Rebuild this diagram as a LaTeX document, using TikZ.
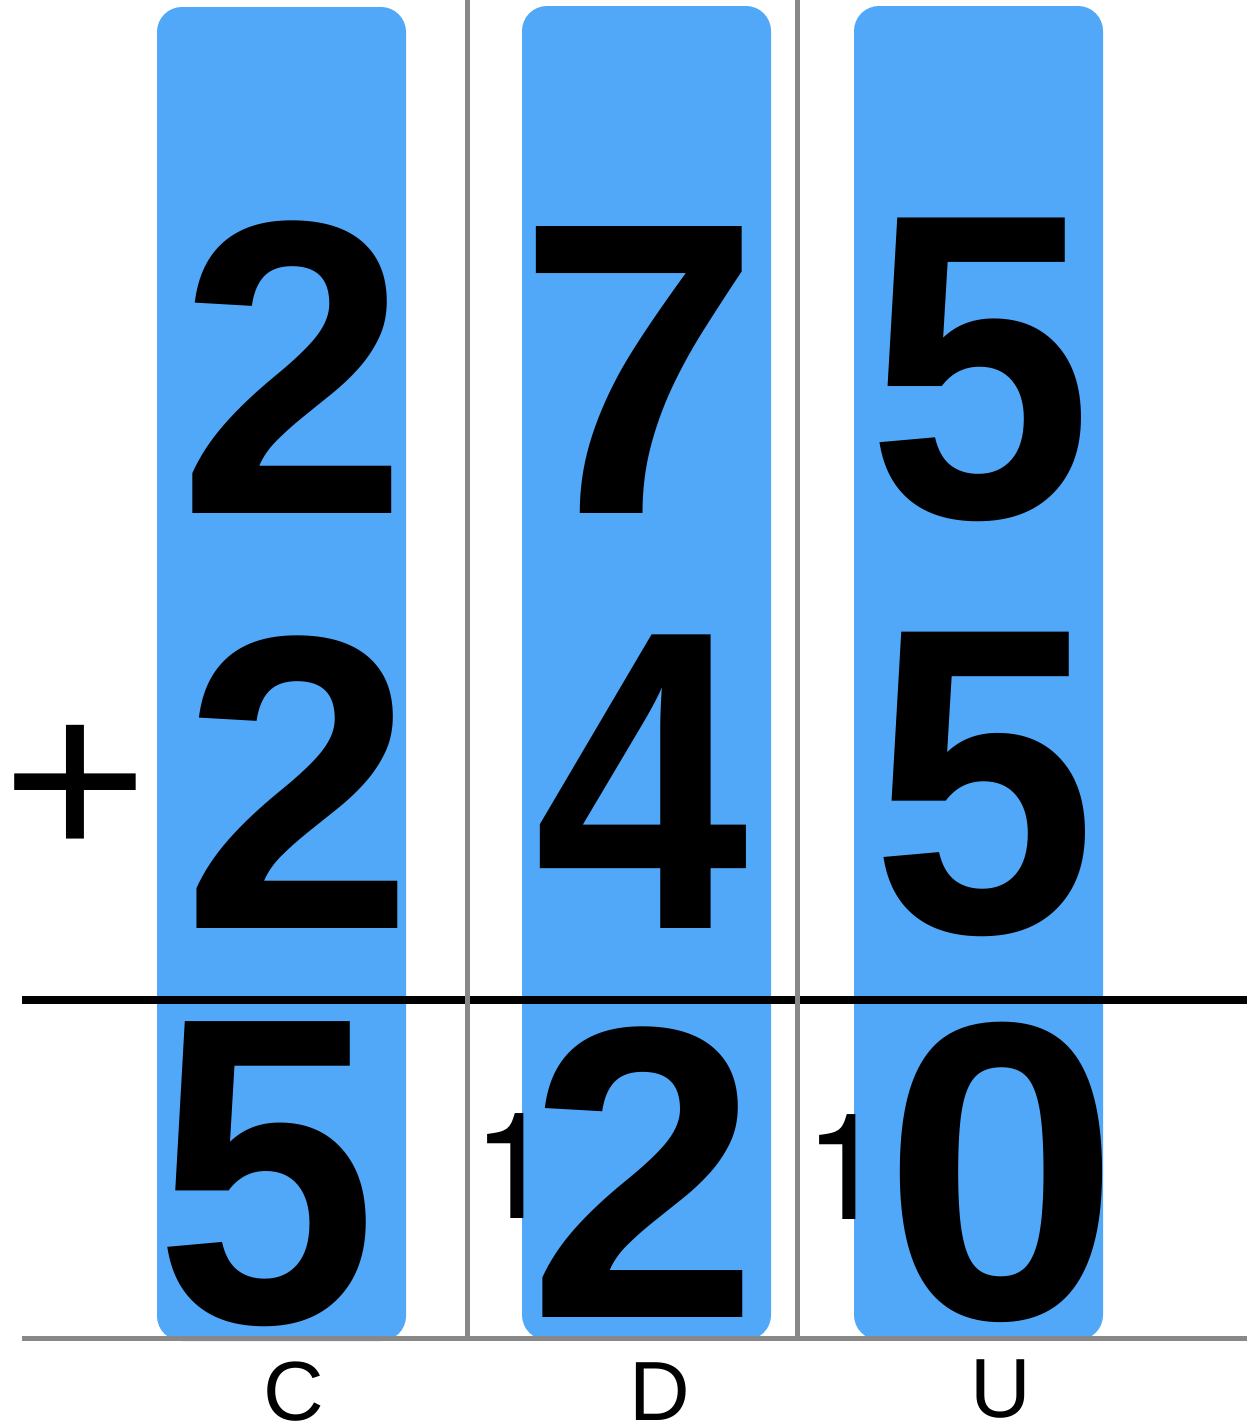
\documentclass[tikz,border=0pt]{standalone}
\usepackage{fontspec}
\setmainfont{Liberation Sans}
\newfontfamily\carryfont{TeX Gyre Heros}
\definecolor{barblue}{HTML}{52A8F8}
\definecolor{rulegray}{HTML}{888888}
\newcommand{\dg}[3]{\scalebox{#1}[#2]{#3}}

\begin{document}
\begin{tikzpicture}[x=1pt,y=-1pt,
  bar/.style={fill=barblue,rounded corners=25pt},
  digit/.style={anchor=base,inner sep=0pt,font=\fontsize{405}{405}\selectfont\bfseries},
  carry/.style={anchor=base,inner sep=0pt,font=\fontsize{148}{148}\selectfont\carryfont},
  colname/.style={anchor=base,inner sep=0pt,font=\fontsize{84}{84}\selectfont},
  gridline/.style={rulegray,line width=5pt}]
\useasboundingbox (0,0) rectangle (1247,1427);
% column bars
\fill[bar] (157,7) rectangle (406,1341);
\fill[bar] (522,6) rectangle (771,1340);
\fill[bar] (854,6) rectangle (1103,1340);
% first addend
\node[digit] (c1) at (293,513) {\dg{1.02}{1.035}{2}};
\node[digit] (d1) at (639,513) {\dg{1.083}{1.03}{7}};
\node[digit] (u1) at (980,517) {\dg{1}{1.075}{5}};
% second addend
\node[anchor=base,inner sep=0pt,font=\fontsize{250}{250}\selectfont] (plus) at (75,859) {\dg{1}{0.93}{+}};
\node[digit] (c2) at (298,928) {\dg{1.03}{1.035}{2}};
\node[digit] (d2) at (641,928) {\dg{0.95}{1.054}{4}};
\node[digit] (u2) at (984,932) {\dg{1}{1.078}{5}};
% sum and carries
\node[digit] (c3) at (266,1322) {\dg{0.985}{1.08}{5}};
\node[digit] (d3) at (644,1317) {\dg{1.025}{1.028}{2}};
\node[digit] (u3) at (1002,1318) {\dg{1.05}{1.048}{0}};
\node[carry] (kd) at (514,1218) {1};
\node[carry] (ku) at (846,1219) {1};
% rules
\draw[line width=8pt] (22,1000) -- (1247,1000);
\draw[gridline] (467,0) -- (467,1338);
\draw[gridline] (797,0) -- (797,1338);
\draw[gridline] (22,1338) -- (1247,1338);
% column names
\node[colname] (lc) at (294,1420) {C};
\node[colname] (ld) at (660,1420) {D};
\node[colname] (lu) at (1001,1417) {U};
\end{tikzpicture}
\end{document}
